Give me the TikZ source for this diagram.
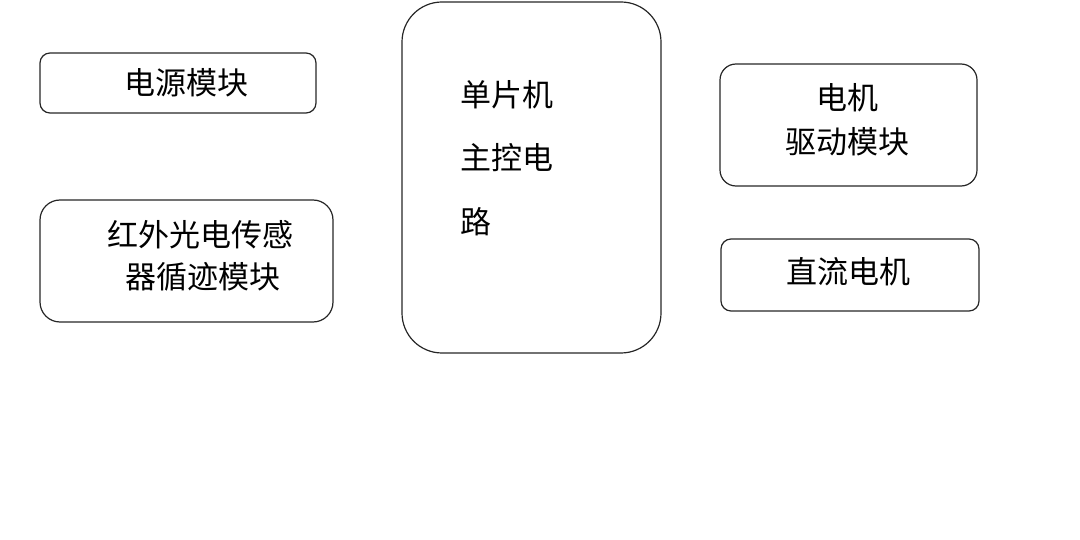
\documentclass[tikz,border=0pt]{standalone}
\usepackage{fontspec}
\setmainfont{Noto Sans CJK SC}
\begin{document}
\begin{tikzpicture}[x=1pt,y=-1pt,
  box/.style={draw=black!85,line width=1.2pt},
  lbl/.style={font=\fontsize{31}{40}\selectfont,inner sep=0pt,align=center}]
\useasboundingbox (0,0) rectangle (1080,540);
\draw[box,rounded corners=10] (40,53) rectangle (316,113);
\node[lbl] (a) at (186,83) {电源模块};
\draw[box,rounded corners=20] (40,200) rectangle (333,322);
\node[lbl,font=\fontsize{31}{42}\selectfont] (b) at (200,256) {红外光电传感\\\ 器循迹模块};
\draw[box,rounded corners=40] (402,2) rectangle (661,353);
\node[lbl,anchor=west] (c1) at (460,95) {单片机};
\node[lbl,anchor=west] (c2) at (460,158) {主控电};
\node[lbl,anchor=west] (c3) at (460,222) {路};
\draw[box,rounded corners=16] (720,64) rectangle (977,186);
\node[lbl,font=\fontsize{31}{44}\selectfont] (d) at (847,120) {电机\\驱动模块};
\draw[box,rounded corners=10] (721,239) rectangle (979,311);
\node[lbl] (e) at (848,272) {直流电机};
\end{tikzpicture}
\end{document}
